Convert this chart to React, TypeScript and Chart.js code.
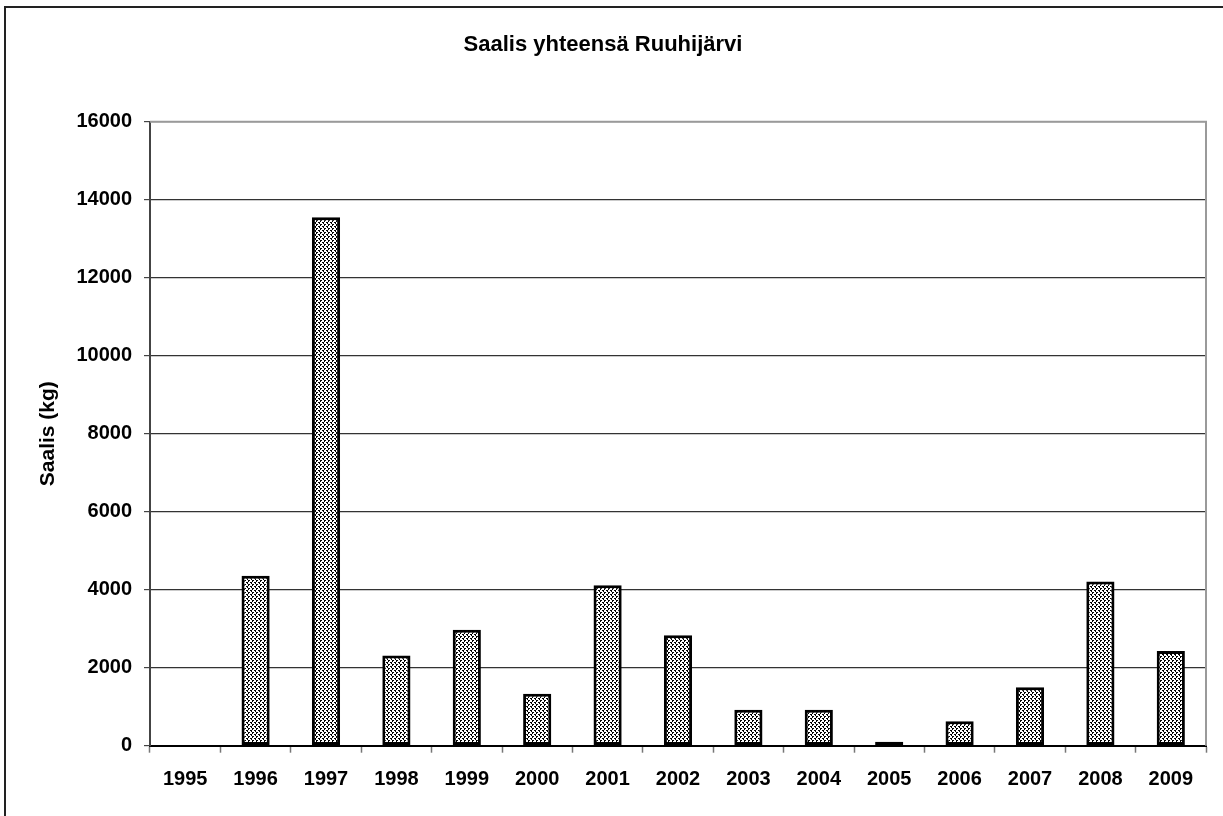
import React, { useEffect, useRef } from "react";
import { Chart, registerables } from "chart.js";

Chart.register(...registerables);

const years: string[] = [
  "1995", "1996", "1997", "1998", "1999", "2000", "2001", "2002",
  "2003", "2004", "2005", "2006", "2007", "2008", "2009",
];
const catch_kg: (number | null)[] = [
  null, 4360, 13550, 2310, 2975, 1335, 4115, 2830,
  925, 925, 100, 625, 1500, 4210, 2430,
];
const chartTitle = "Saalis yhteensä Ruuhijärvi";
const yTitle = "Saalis (kg)";
const yMin = 0;
const yMax = 16000;
const yStep = 2000;

const FONT = "'Liberation Sans', Arial, Helvetica, sans-serif";

function makePattern(): CanvasPattern | string {
  const c = document.createElement("canvas");
  c.width = 4;
  c.height = 4;
  const g = c.getContext("2d");
  if (!g) return "#999";
  g.fillStyle = "#fff";
  g.fillRect(0, 0, 4, 4);
  g.fillStyle = "#000";
  g.fillRect(0, 0, 2, 1);
  g.fillRect(0, 1, 1, 1);
  g.fillRect(2, 2, 2, 1);
  g.fillRect(3, 3, 1, 1);
  const p = g.createPattern(c, "repeat");
  return p || "#999";
}

const framePlugin = {
  id: "frame",
  beforeDraw(chart: any) {
    const ctx = chart.ctx;
    ctx.save();
    ctx.fillStyle = "#fff";
    ctx.fillRect(0, 0, chart.width, chart.height);
    ctx.strokeStyle = "#222";
    ctx.lineWidth = 2;
    ctx.strokeRect(5, 7, chart.width - 10, chart.height + 20);
    ctx.restore();
  },
  afterDatasetsDraw(chart: any) {
    const { ctx, chartArea } = chart;
    ctx.save();
    ctx.strokeStyle = "#9a9a9a";
    ctx.lineWidth = 2;
    ctx.beginPath();
    ctx.moveTo(chartArea.left, chartArea.top);
    ctx.lineTo(chartArea.right, chartArea.top);
    ctx.lineTo(chartArea.right, chartArea.bottom);
    ctx.stroke();
    ctx.restore();
  },
};

export default function App() {
  const ref = useRef<HTMLCanvasElement | null>(null);

  useEffect(() => {
    document.body.style.margin = "0";
    document.body.style.overflow = "hidden";
    document.documentElement.style.overflow = "hidden";
    if (!ref.current) return;
    const chart = new Chart(ref.current, {
      type: "bar",
      data: {
        labels: years,
        datasets: [
          {
            label: yTitle,
            data: catch_kg as any,
            backgroundColor: makePattern() as any,
            borderColor: "#000",
            borderWidth: 3,
            borderSkipped: false,
            categoryPercentage: 0.5,
            barPercentage: 0.8,
          },
        ],
      },
      options: {
        animation: false,
        responsive: false,
        maintainAspectRatio: false,
        devicePixelRatio: 1,
        layout: { padding: { left: 0, right: 27, top: 0, bottom: 0 } },
        plugins: {
          legend: { display: false },
          tooltip: { enabled: false },
          title: {
            display: true,
            text: chartTitle,
            color: "#000",
            font: { family: FONT, size: 22, weight: "bold", lineHeight: 1.2 },
            padding: { top: 31.8, bottom: 63.5 },
          },
        },
        scales: {
          x: {
            afterFit: (s: any) => {
              s.height = 70.3;
            },
            grid: {
              display: true,
              drawOnChartArea: false,
              drawTicks: true,
              tickLength: 7,
              tickColor: "#777",
              tickWidth: 1.5,
              offset: true,
            },
            border: { display: true, color: "#000", width: 2 },
            ticks: {
              color: "#000",
              padding: 15,
              maxRotation: 0,
              autoSkip: false,
              font: { family: FONT, size: 20, weight: "bold" },
            },
          },
          y: {
            min: yMin,
            max: yMax,
            afterFit: (s: any) => {
              s.width = 150;
            },
            grid: {
              color: (c: any) => (c.tick && c.tick.value === yMax ? "#9a9a9a" : "#333"),
              lineWidth: 1.2,
              drawTicks: true,
              tickLength: 6,
              tickColor: "#444",
            },
            border: { display: true, color: "#444", width: 2 },
            ticks: {
              stepSize: yStep,
              color: "#000",
              padding: 12,
              font: { family: FONT, size: 20, weight: "bold" },
              callback: (v: any) => String(v),
            },
            title: {
              display: true,
              text: yTitle,
              color: "#000",
              font: { family: FONT, size: 21, weight: "bold", lineHeight: 1.2 },
              padding: { top: 35.4, bottom: 0 },
            },
          },
        },
      },
      plugins: [framePlugin],
    });
    return () => chart.destroy();
  }, []);

  return (
    <div style={{ position: "relative", width: 1233, height: 816 }}>
      <canvas ref={ref} width={1233} height={816} style={{ display: "block" }} />
    </div>
  );
}
